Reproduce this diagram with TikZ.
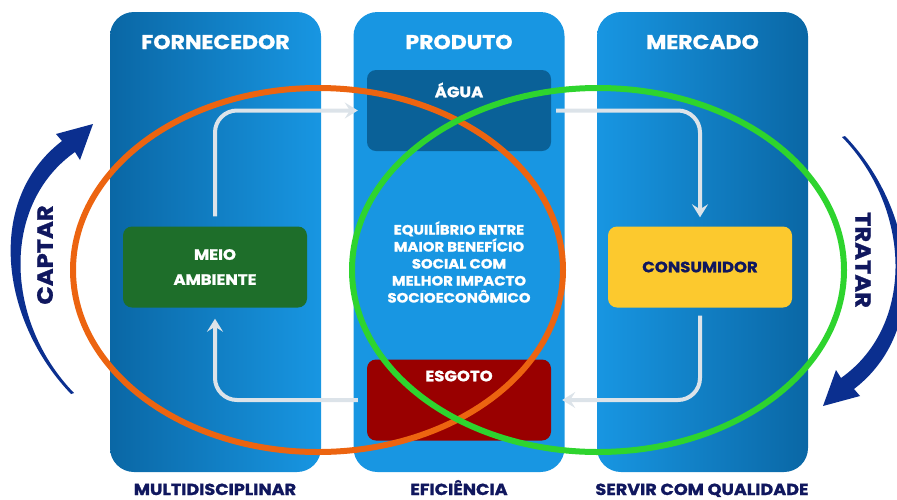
\documentclass[tikz,border=0pt]{standalone}
\usepackage{fontspec}
\setmainfont{Poppins}[FakeStretch=1.1,BoldFeatures={FakeBold=1.2}]
\usetikzlibrary{arrows.meta}
\definecolor{paneldark}{HTML}{0A67A5}
\definecolor{panellight}{HTML}{1896E2}
\definecolor{aguablue}{HTML}{0A6198}
\definecolor{esgotored}{HTML}{990000}
\definecolor{meiogreen}{HTML}{1E6E2A}
\definecolor{consyellow}{HTML}{FCC92E}
\definecolor{navytext}{HTML}{10175E}
\definecolor{sweepblue}{HTML}{0B2F8F}
\definecolor{flowgrey}{HTML}{DCE3E9}
\definecolor{orangering}{HTML}{EC6410}
\definecolor{greenring}{HTML}{2ED42E}

\begin{document}
\begin{tikzpicture}[x=1pt,y=-1pt,
  panel/.style={rounded corners=24pt,minimum width=211pt,minimum height=460pt,inner sep=0pt},
  box/.style={rounded corners=9pt,minimum width=184pt,minimum height=81pt,inner sep=0pt},
  boxtext/.style={font=\bfseries\fontsize{15}{25}\selectfont,text=white,align=center},
  title/.style={font=\bfseries\fontsize{20}{22}\selectfont,text=white},
  motto/.style={font=\bfseries\fontsize{16}{18}\selectfont,text=navytext,anchor=base,inner sep=0pt},
  sidelabel/.style={font=\bfseries\fontsize{22}{24}\selectfont,text=navytext},
  flow/.style={draw=flowgrey,line width=4pt,rounded corners=22pt,-{Stealth[length=13pt,width=16pt,inset=5pt]}},
  ring/.style={line width=6pt}]
  \useasboundingbox (0,0) rectangle (897,499);
  \node[panel,left color=paneldark,right color=panellight] (fornecedor) at (215.5,242) {};
  \node[panel,fill=panellight] (produto) at (459,242) {};
  \node[panel,left color=panellight,right color=paneldark] (mercado) at (702.5,242) {};
  \node[title] (tfornecedor) at (215.5,42) {FORNECEDOR};
  \node[title] (tproduto) at (459,42) {PRODUTO};
  \node[title] (tmercado) at (702.5,42) {MERCADO};
  \node[box,fill=aguablue] (agua) at (459,110.5) {};
  \node[box,fill=esgotored] (esgoto) at (459,400) {};
  \node[box,fill=meiogreen,boxtext] (meio) at (215,267) {MEIO\\AMBIENTE};
  \node[box,fill=consyellow,boxtext,text=navytext] (consumidor) at (700,267) {CONSUMIDOR};
  \node[boxtext] (tagua) at (459,90) {ÁGUA};
  \node[boxtext] (tesgoto) at (459,376) {ESGOTO};
  \draw[flow,shorten <=10pt,shorten >=9pt] (meio.north) |- (agua.west);
  \draw[flow,shorten <=5pt,shorten >=9pt] (agua.east) -| (consumidor.north);
  \draw[flow,shorten <=8pt,shorten >=11pt] (consumidor.south) |- (esgoto.east);
  \draw[flow,shorten <=9pt,shorten >=11pt] (esgoto.west) -| (meio.south);
  \draw[ring,draw=orangering] (318,270) ellipse [x radius=245pt,y radius=182pt];
  \draw[ring,draw=greenring] (598,270) ellipse [x radius=246pt,y radius=182pt];
  \node[align=center,font=\bfseries\fontsize{13.5}{17}\selectfont,text=white] (equilibrio) at (459,262)
    {EQUILÍBRIO ENTRE\\MAIOR BENEFÍCIO\\SOCIAL COM\\MELHOR IMPACTO\\SOCIOECONÔMICO};
  \foreach \ang in {0,180}
    \fill[sweepblue,rotate around={\ang:(458,265)}] (71,394) .. controls (0,320) and (-15,200) .. (62,141)
      -- (56,134) -- (93,124) -- (80,160) -- (75,152) .. controls (0,205) and (5,322) .. (74,393) -- cycle;
  \node[sidelabel,rotate=90] (captar) at (45,255) {CAPTAR};
  \node[sidelabel,rotate=-90] (tratar) at (863,260) {TRATAR};
  \node[motto] (multi) at (215,495) {MULTIDISCIPLINAR};
  \node[motto] (eficiencia) at (459,495) {EFICIÊNCIA};
  \node[motto] (servir) at (702,495) {SERVIR COM QUALIDADE};
\end{tikzpicture}
\end{document}
